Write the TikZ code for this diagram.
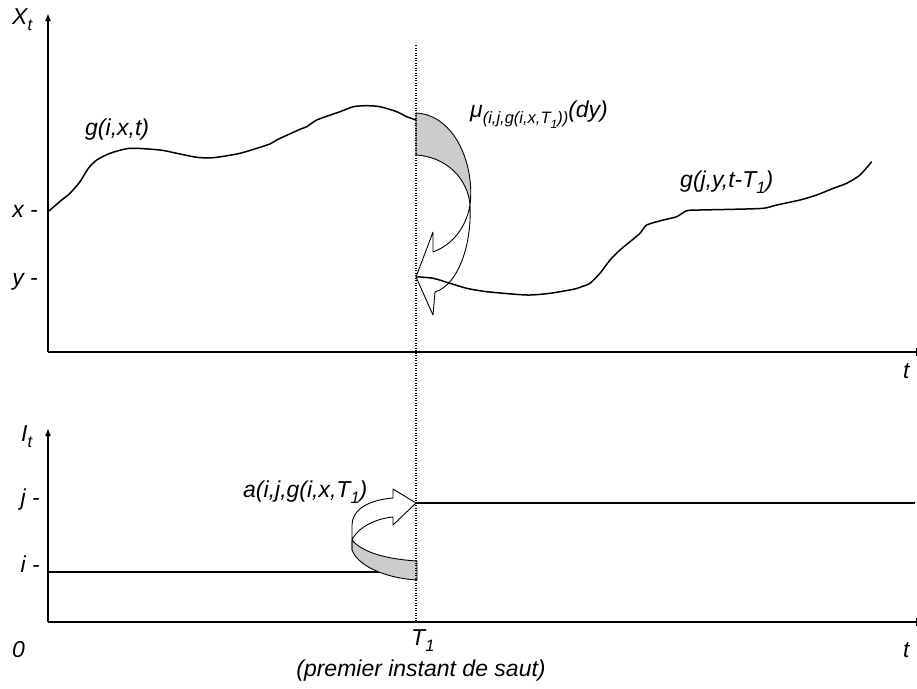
\documentclass[tikz,border=0pt]{standalone}
\usepackage{fontspec}
\setmainfont{Liberation Sans}
\usetikzlibrary{arrows.meta}
\newcommand\sbs[1]{\raisebox{-0.3em}{\fontsize{16.5}{16.5}\selectfont #1}}
\newcommand\ssbs[1]{\raisebox{-0.25em}{\fontsize{12}{12}\selectfont #1}}
\begin{document}
\begin{tikzpicture}[x=1pt,y=-1pt,
  lbl/.style={inner sep=0pt, font=\fontsize{23}{27}\selectfont\itshape},
  axis/.style={line width=1.8pt},
  curve/.style={line width=1.5pt, line join=round},
  band/.style={line width=0.9pt, line join=round},
  tip/.style={-{Latex[length=8pt,width=6pt]}}]
\useasboundingbox (0,0) rectangle (917,688);
% axes
\coordinate (O1) at (48,352); \coordinate (Y1) at (48,13); \coordinate (E1) at (916,352);
\coordinate (O2) at (48,622); \coordinate (Y2) at (48,428); \coordinate (E2) at (916,622);
\draw[axis,tip] (O1) -- (Y1);
\draw[axis] (O1) -- (E1);
\draw[axis,tip] (O2) -- (Y2);
\draw[axis] (O2) -- (E2);
\draw[line width=1pt] (916,348) -- (916,356);
\draw[line width=1pt] (916,618) -- (916,626);
% labels
\node[lbl,anchor=base west] (Xt) at (12,24) {X\sbs{t}};
\node[lbl,anchor=base east] (xl) at (38,217) {x -};
\node[lbl,anchor=base east] (yl) at (38,285.5) {y -};
\node[lbl,anchor=base west] (t1) at (903,378) {t};
\node[lbl,anchor=base west] (It) at (21,441) {I\sbs{t}};
\node[lbl,anchor=base east] (jl) at (40,505.5) {j -};
\node[lbl,anchor=base east] (il) at (40,572) {i -};
\node[lbl,anchor=base west] (zero) at (12,657) {0};
\node[lbl,anchor=base west] (T1) at (411,645) {T\sbs{1}};
\node[lbl,anchor=base] (prem) at (421,676) {(premier instant de saut)};
\node[lbl,anchor=base west] (t2) at (903,657) {t};
\node[lbl,anchor=base west] (gix) at (85,135) {g(i,x,t)};
\node[lbl,anchor=base west] (gjy) at (680,187) {g(j,y,t-T\sbs{1})};
\node[lbl,anchor=base west] (mu) at (470,117) {μ\sbs{(i,j,g(i,x,T\ssbs{1}))}(dy)};
\node[lbl,anchor=base west] (al) at (243,497) {a(i,j,g(i,x,T\sbs{1})};
% trajectories
\draw[curve] plot[smooth,tension=0.4] coordinates {(49,211) (61.7,200) (70,193.3) (80,181.7) (88.3,168.3) (96.7,160) (110,153.3) (130,148.3) (160,150) (176.7,153.3) (196.7,157.3) (213.3,157.7) (240,153.3) (270,144) (276.7,140) (300,129.3) (306.7,126.7) (316.7,120) (333.3,114) (340,111.7) (353.3,106.7) (366.7,105.7) (380,106.7) (396.7,111.7) (406.7,116.7) (416,120)};
\draw[curve] plot[smooth,tension=0.4] coordinates {(416,276.7) (433.3,278.3) (450,283.3) (466.7,288.3) (486.7,291.7) (526.7,295) (550,293.3) (573.3,289.3) (581.7,286.7) (590,283.3) (600,273.3) (610,260) (620,250) (630,241.7) (640,233.3) (646.7,225) (663.3,220) (676.7,216.7) (686.7,210.7) (700,210) (733.3,209.3) (763.3,208.3) (776.7,205) (800,200) (816.7,195) (833.3,188.3) (846.7,183.3) (860,175) (871.7,161.7)};
% bottom levels
\draw[curve] (48,572) -- (416,572);
\draw[curve] (416,503) -- (915,503);
% upper twisted arrow
\filldraw[band,fill=black!20] (416,113) .. controls (455,115) and (475,165) .. (470,205) .. controls (468,180) and (448,157) .. (416,155) -- cycle;
\draw[band] (470,205) .. controls (466,228) and (452,245) .. (433,252) -- (433,232) -- (416,277) -- (433,315) -- (435,292) .. controls (458,285) and (472,245) .. (470,205);
% lower twisted arrow
\filldraw[band,fill=black!20] (352,540) .. controls (362,552) and (385,559) .. (417,561) -- (417,580) .. controls (385,578) and (358,566) .. (352,550) -- cycle;
\draw[band] (352,550) -- (352,525) .. controls (352,510) and (368,500) .. (393,498) -- (393,489) -- (416,503) -- (393,525) -- (393,517) .. controls (372,519) and (356,530) .. (352,540);
% jump instant
\draw[line width=1.2pt, dash pattern=on 1.2pt off 1.3pt] (416,45) -- (416,622);
\end{tikzpicture}
\end{document}
